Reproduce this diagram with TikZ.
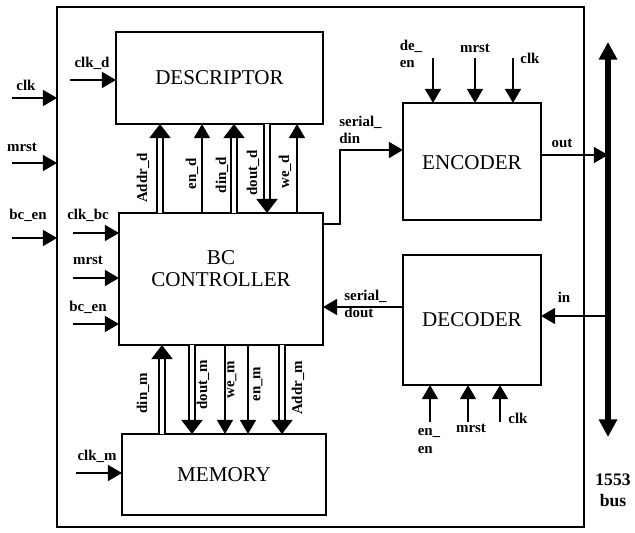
\documentclass[tikz,border=0pt]{standalone}
\usepackage{fontspec}
\setmainfont{Liberation Serif}
\usetikzlibrary{arrows.meta}
\tikzset{
  blk/.style={draw,line width=1.2pt,inner sep=0pt,outer sep=0pt,align=center,font=\fontsize{12}{12.5}\selectfont},
  sig/.style={line width=1.1pt,-{Triangle[length=8pt,width=9pt]}},
  dbl/.style={line width=0.9pt,double,double distance=2.2pt,-{Triangle[length=8pt,width=12pt]}},
  lbl/.style={inner sep=0pt,align=left,font=\bfseries\fontsize{8.5}{10}\selectfont},
  vlbl/.style={lbl,rotate=90}
}

\begin{document}
\begin{tikzpicture}[x=0.02cm,y=-0.02cm]
\useasboundingbox (0,0) rectangle (635,533);
% blocks
\node[blk,minimum width=10.54cm,minimum height=10.4cm] (chip) at (320.5,267) {};
\node[blk,minimum width=4.14cm,minimum height=1.84cm] (desc) at (219.5,78) {DESCRIPTOR};
\node[blk,minimum width=4.08cm,minimum height=2.64cm] (ctrl) at (221,279) {BC\\CONTROLLER\\[-1pt]};
\node[blk,minimum width=2.76cm,minimum height=2.34cm] (enc) at (472,161.5) {\\[-3pt]ENCODER};
\node[blk,minimum width=2.76cm,minimum height=2.6cm] (dec) at (472,320) {DECODER};
\node[blk,minimum width=4.08cm,minimum height=1.62cm] (mem) at (224,474.5) {MEMORY};
% 1553 bus
\coordinate (bustop) at (608,42);
\coordinate (busbot) at (608,437);
\draw[line width=3.3pt,{Triangle[length=10pt,width=10pt]}-{Triangle[length=10pt,width=10pt]}] (busbot) -- (bustop);
\node[lbl,align=center,font=\bfseries\fontsize{10}{12}\selectfont] (busl) at (613,490) {1553\\bus};
% chip inputs
\foreach \y/\t/\lx/\ly in {98/clk/26/85, 163/mrst/22/147, 238/bc\_en/28/215}{
  \coordinate (in\y) at (12,\y);
  \draw[sig] (in\y) -- (in\y -| chip.west);
  \node[lbl] (lin\y) at (\lx,\ly) {\t};
}
% controller inputs
\foreach \y/\t/\ly in {233/clk\_bc/215, 278/mrst/260, 324/bc\_en/307}{
  \coordinate (cin\y) at (73,\y);
  \draw[sig] (cin\y) -- (cin\y -| ctrl.west);
  \node[lbl] (lcin\y) at (88,\ly) {\t};
}
\coordinate (clkd) at (70,80);
\draw[sig] (clkd) -- (clkd -| desc.west);
\node[lbl] (lclkd) at (92,63) {clk\_d};
\coordinate (clkm) at (76,473);
\draw[sig] (clkm) -- (clkm -| mem.west);
\node[lbl] (lclkm) at (97,456) {clk\_m};
% descriptor <-> controller
\foreach \x/\s in {160/dbl, 202/sig, 234/dbl, 297/sig}
  \draw[\s] (ctrl.north -| \x,0) -- (desc.south -| \x,0);
\draw[dbl] (desc.south -| 267,0) -- (ctrl.north -| 267,0);
\foreach \x/\y/\t in {143/178/Addr\_d, 192/174/en\_d, 222/175/din\_d, 253/173/dout\_d, 285/172/we\_d}
  \node[vlbl] (ld\x) at (\x,\y) {\t};
% controller <-> memory
\draw[dbl] (mem.north -| 162,0) -- (ctrl.south -| 162,0);
\foreach \x/\s in {192/dbl, 225/sig, 248/sig, 282/dbl}
  \draw[\s] (ctrl.south -| \x,0) -- (mem.north -| \x,0);
\foreach \x/\y/\t in {143/393/din\_m, 203/385/dout\_m, 232/380/we\_m, 258/384/en\_m, 298/388/Addr\_m}
  \node[vlbl] (lm\x) at (\x,\y) {\t};
% encoder
\foreach \x in {433,475,513}{
  \coordinate (ein\x) at (\x,58);
  \draw[sig] (ein\x) -- (ein\x |- enc.north);
}
\node[lbl] (lde) at (411,54) {de\_\\en};
\node[lbl] (lemrst) at (475,48) {mrst};
\node[lbl] (leclk) at (530,58) {clk};
\coordinate (sdin) at (340,150);
\draw[sig] (ctrl.east |- 0,224) -| (sdin) -- (sdin -| enc.west);
\node[lbl,anchor=west] (lsdin) at (339,130) {serial\_\\din};
\coordinate (outp) at (608,155);
\draw[sig] (enc.east |- outp) -- (outp);
\node[lbl] (lout) at (562,143) {out};
% decoder
\coordinate (inp) at (608,316);
\draw[sig] (inp) -- (inp -| dec.east);
\node[lbl] (lin) at (564,297) {in};
\coordinate (sdout) at (403,307);
\draw[sig] (sdout) -- (sdout -| ctrl.east);
\node[lbl,anchor=west] (lsdout) at (344,304) {serial\_\\dout};
\foreach \x in {430,468,500}{
  \coordinate (din\x) at (\x,422);
  \draw[sig] (din\x) -- (din\x |- dec.south);
}
\node[lbl] (lden) at (429,441) {en\_\\en};
\node[lbl] (ldmrst) at (471,428) {mrst};
\node[lbl] (ldclk) at (518,418) {clk};
\end{tikzpicture}
\end{document}
